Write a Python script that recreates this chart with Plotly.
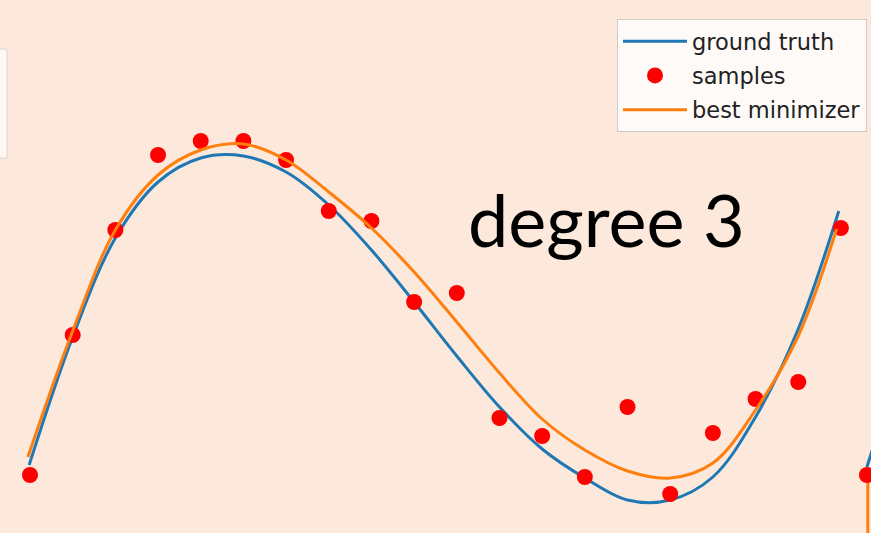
import plotly.graph_objects as go

# sample positions (index) and noisy observations
sample_t = list(range(20))
sample_y = [0.05, 1.45, 2.50, 3.25, 3.39, 3.39, 3.20, 2.69, 2.59, 1.78,
            1.87, 0.62, 0.44, 0.03, 0.73, -0.14, 0.47, 0.81, 0.98, 2.52]

# ground truth curve
truth_t = [-0.02, 1, 2, 3, 4, 5, 6, 7, 8, 9, 10, 11, 12, 13, 14, 15, 16, 17, 18, 18.95]
truth_y = [0.15, 1.43, 2.42, 2.98, 3.22, 3.24, 3.08, 2.75, 2.30, 1.78, 1.24,
           0.73, 0.31, 0.02, -0.20, -0.20, 0.03, 0.63, 1.51, 2.69]

# fitted cubic (best minimizer)
fit_t = [-0.05, 1, 2, 3, 4, 5, 6, 7, 8, 9, 10, 11, 12, 13, 14, 15, 16, 17, 18, 18.9]
fit_y = [0.23, 1.49, 2.50, 3.05, 3.30, 3.36, 3.20, 2.88, 2.52, 2.08, 1.58,
         1.07, 0.61, 0.30, 0.09, 0.02, 0.17, 0.70, 1.44, 2.51]

# beginning of the neighbouring panel at the right edge
next_dot_t = [19.61]
next_dot_y = [0.05]
next_truth_t = [19.61, 19.75]
next_truth_y = [0.13, 0.32]
next_fit_t = [19.63, 19.63]
next_fit_y = [0.05, -0.7]

BG = "#FCE9DB"
BLUE = "#1f77b4"
ORANGE = "#ff7f0e"
RED = "#ff0000"

fig = go.Figure()

fig.add_trace(go.Scatter(x=truth_t, y=truth_y, mode="lines", name="ground truth",
                         line=dict(color=BLUE, width=3, shape="spline", smoothing=1),
                         legendgroup="a"))
fig.add_trace(go.Scatter(x=sample_t, y=sample_y, mode="markers", name="samples",
                         marker=dict(color=RED, size=16), legendgroup="b"))
fig.add_trace(go.Scatter(x=fit_t, y=fit_y, mode="lines", name="best minimizer",
                         line=dict(color=ORANGE, width=3, shape="spline", smoothing=1),
                         legendgroup="c"))

fig.add_trace(go.Scatter(x=next_truth_t, y=next_truth_y, mode="lines", showlegend=False,
                         line=dict(color=BLUE, width=3)))
fig.add_trace(go.Scatter(x=next_fit_t, y=next_fit_y, mode="lines", showlegend=False,
                         line=dict(color=ORANGE, width=3)))
fig.add_trace(go.Scatter(x=next_dot_t, y=next_dot_y, mode="markers", showlegend=False,
                         marker=dict(color=RED, size=16)))

# edge of the neighbouring panel's legend box on the left
fig.add_shape(type="rect", xref="paper", yref="paper",
              x0=-0.02, x1=7 / 871, y0=1 - 158 / 533, y1=1 - 49 / 533,
              fillcolor="#FEF8F4", line=dict(color="#D9D4D0", width=1))

fig.add_annotation(text="degree 3", xref="paper", yref="paper",
                   x=606 / 871, y=1 - 219 / 533, xanchor="center", yanchor="middle",
                   showarrow=False, font=dict(family="Lato", size=72, color="#000000"))

fig.update_layout(
    width=871, height=533,
    margin=dict(l=0, r=0, t=0, b=0),
    paper_bgcolor=BG, plot_bgcolor=BG,
    xaxis=dict(range=[-0.703, 19.705], visible=False, fixedrange=True),
    yaxis=dict(range=[-0.53, 4.80], visible=False, fixedrange=True),
    showlegend=True,
    legend=dict(x=617 / 871, y=1 - 19 / 533, xanchor="left", yanchor="top",
                bgcolor="#FEFAF7", bordercolor="#CFCBC8", borderwidth=1,
                font=dict(family="DejaVu Sans", size=22.5, color="#222222"),
                traceorder="grouped", tracegroupgap=2, itemwidth=64),
)

fig.write_html("out.html", config={"displayModeBar": False})
